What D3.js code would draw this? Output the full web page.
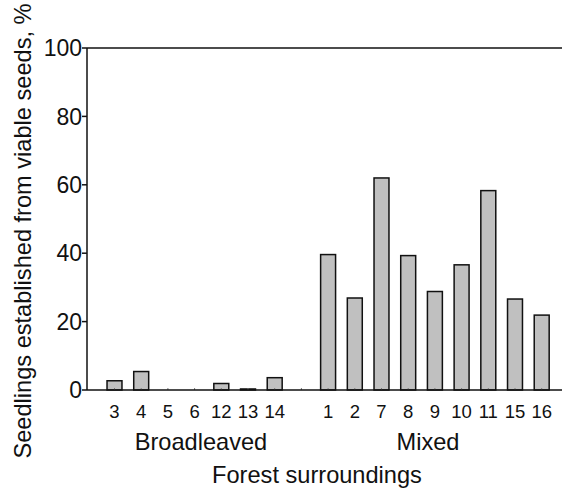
<!DOCTYPE html>
<html><head><meta charset="utf-8">
<script src="https://cdn.jsdelivr.net/npm/d3@7"></script>
<style>body{margin:0;background:#fff}svg{display:block}text{font-family:"Liberation Sans",Arial,sans-serif;fill:#111}</style>
</head><body>
<script>
const broadleaved = ["3","4","5","6","12","13","14"];
const broadValues = [2.7, 5.4, 0, 0, 1.9, 0.3, 3.6];
const mixed = ["1","2","7","8","9","10","11","15","16"];
const mixedValues = [39.6, 26.9, 62.0, 39.3, 28.8, 36.6, 58.3, 26.6, 21.9];
const yTicks = [0, 20, 40, 60, 80, 100];
const groupLabels = ["Broadleaved", "Mixed"];

const W = 562, H = 489;
const svg = d3.select("body").append("svg").attr("width", W).attr("height", H);

const data = broadleaved.map((c, i) => ({key: "b" + c, label: c, v: broadValues[i]}))
  .concat([{key: "gap", label: "", v: null}])
  .concat(mixed.map((c, i) => ({key: "m" + c, label: c, v: mixedValues[i]})));

const x = d3.scaleBand().domain(data.map(d => d.key)).range([101.15, 555.05]).paddingInner(0.44).paddingOuter(0.22);
const y = d3.scaleLinear().domain([0, 100]).range([390, 48]);
const left = 87;

// bars
svg.append("g").selectAll("rect").data(data.filter(d => d.v !== null && d.v > 0)).join("rect")
  .attr("x", d => x(d.key)).attr("width", x.bandwidth())
  .attr("y", d => y(d.v)).attr("height", d => y(0) - y(d.v))
  .attr("fill", "#c0c0c0").attr("stroke", "#111").attr("stroke-width", 1.5);

// x tick marks
svg.append("g").selectAll("line").data(data).join("line")
  .attr("x1", d => x(d.key) + x.bandwidth() / 2).attr("x2", d => x(d.key) + x.bandwidth() / 2)
  .attr("y1", y(0)).attr("y2", y(0) - 2).attr("stroke", "#777").attr("stroke-width", 1);

// axes lines
svg.append("line").attr("x1", left).attr("x2", W).attr("y1", y(0)).attr("y2", y(0)).attr("stroke", "#111").attr("stroke-width", 1.5);
svg.append("line").attr("x1", left).attr("x2", W).attr("y1", y(100)).attr("y2", y(100)).attr("stroke", "#111").attr("stroke-width", 1.5);
svg.append("line").attr("x1", left).attr("x2", left).attr("y1", y(100)).attr("y2", y(0)).attr("stroke", "#111").attr("stroke-width", 1.5);

// y ticks
const yt = svg.append("g").selectAll("g").data(yTicks).join("g").attr("transform", d => `translate(0,${y(d)})`);
yt.append("line").attr("x1", left - 5).attr("x2", left).attr("stroke", "#111").attr("stroke-width", 1.5);
yt.append("text").attr("x", left - 5).attr("dy", "0.36em").attr("text-anchor", "end").attr("font-size", 23).text(d => d);

// x tick labels
svg.append("g").selectAll("text").data(data).join("text")
  .attr("x", d => x(d.key) + x.bandwidth() / 2).attr("y", 418)
  .attr("text-anchor", "middle").attr("font-size", 18.5).text(d => d.label);

// group labels
svg.append("text").attr("x", 201).attr("y", 450).attr("text-anchor", "middle").attr("font-size", 23.6).text(groupLabels[0]);
svg.append("text").attr("x", 428).attr("y", 450).attr("text-anchor", "middle").attr("font-size", 23.6).text(groupLabels[1]);
svg.append("text").attr("x", 317).attr("y", 483).attr("text-anchor", "middle").attr("font-size", 23.6).text("Forest surroundings");

// y label
svg.append("text").attr("transform", "translate(31,231) rotate(-90)").attr("text-anchor", "middle").attr("font-size", 23.6)
  .text("Seedlings established from viable seeds, %");
</script>
</body></html>
